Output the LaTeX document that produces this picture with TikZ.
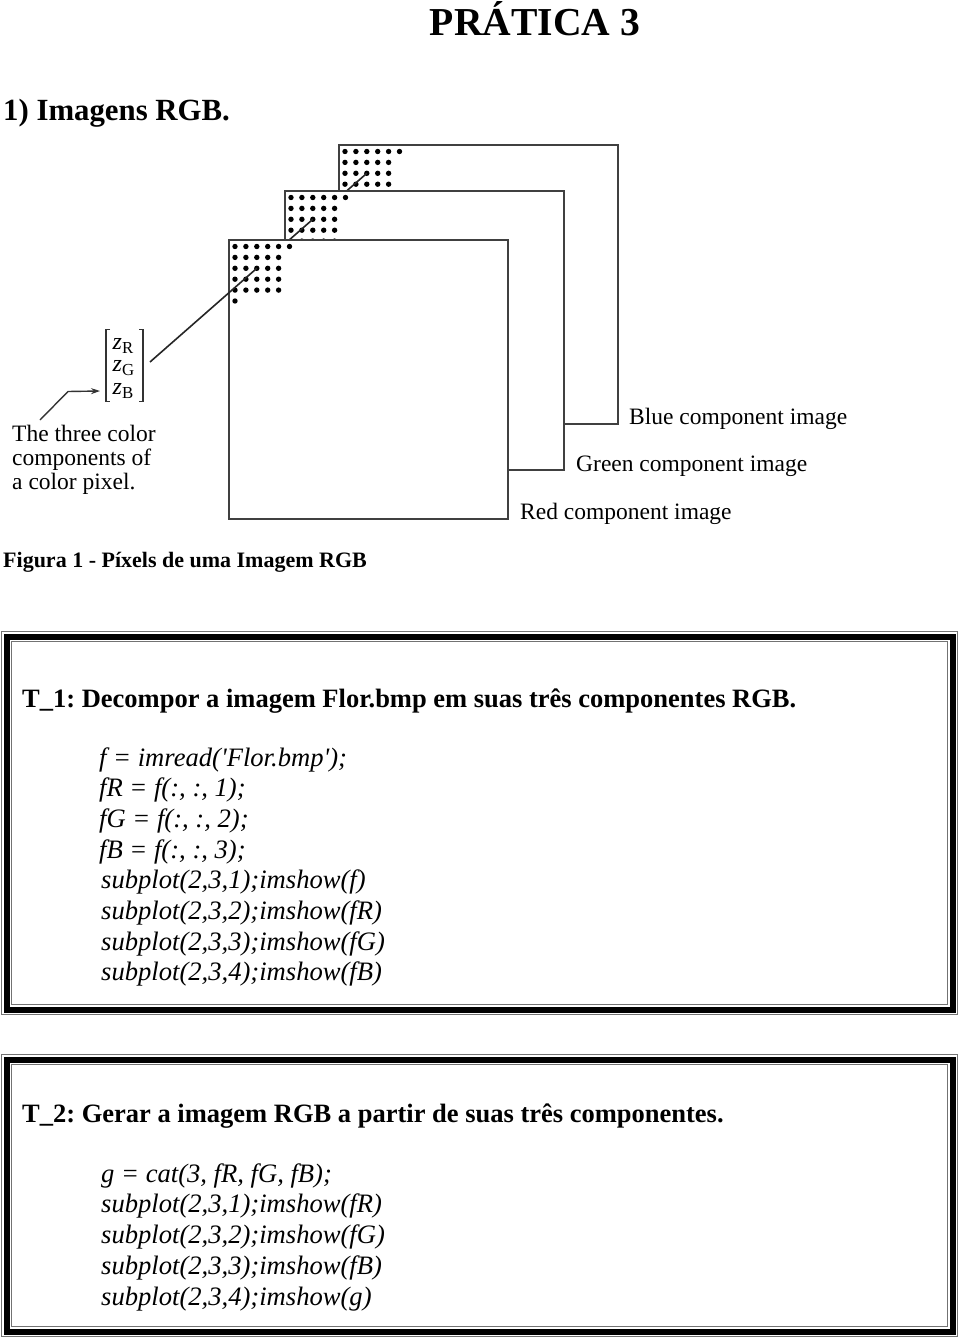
\documentclass[tikz,border=0pt]{standalone}
\usepackage{fontspec}
\setmainfont{Liberation Serif}
\usetikzlibrary{arrows.meta}
\tikzset{
  txt/.style={inner sep=0pt, anchor=base west},
  lbl/.style={txt, font=\fontsize{23.5}{24}\selectfont},
  zlab/.style={txt, font=\fontsize{24}{24}\selectfont},
  code/.style={txt, font=\fontsize{26.6}{30}\selectfont\itshape\frenchspacing},
  head/.style={txt, font=\fontsize{26.5}{30}\selectfont\bfseries\frenchspacing},
  layer/.style={draw=black!75, line width=2pt, fill=white, inner sep=0pt, minimum size=279pt, anchor=north west},
  pixdot/.style={fill=black},
  ray/.style={draw=black!85, line width=1.6pt},
  brk/.style={draw=black!80, line width=1.3pt},
  frameout/.style={draw=black!55, line width=1pt},
  framemid/.style={draw=black, line width=6pt},
  framein/.style={draw=black!55, line width=1pt},
}
\newcommand\mypixgrid{%
  \foreach \c in {0,...,5} \path[pixdot] (7+\c*10.9, 7.5) circle[radius=2.7pt];
  \foreach \r in {1,...,4} {\foreach \c in {0,...,4} \path[pixdot] (7+\c*10.9, 7.5+\r*10.9) circle[radius=2.7pt];}
  \path[pixdot] (7, 7.5+5*10.9) circle[radius=2.7pt];
}
\begin{document}
\begin{tikzpicture}[x=1pt,y=-1pt]
\useasboundingbox[fill=white] (0,0) rectangle (960,1338);

% headings
\node[inner sep=0pt, anchor=base, font=\fontsize{39.6}{40}\selectfont\bfseries] (title) at (535,36) {PRÁTICA 3};
\node[txt, font=\fontsize{30.8}{32}\selectfont\bfseries] (sec) at (3,120) {1) Imagens RGB.};

% component images (back to front)
\node[layer] (blue) at (338,144) {};
\begin{scope}[shift={(338,144)}]\mypixgrid\end{scope}
\coordinate (bdot) at (366.8,173.3);
\coordinate (bend) at (326.8,208.3);
\draw[ray] (bdot) -- (bend);

\node[layer] (green) at (284,190) {};
\begin{scope}[shift={(284,190)}]\mypixgrid\end{scope}
\coordinate (gdot) at (312.8,219.3);
\coordinate (gend) at (272.8,254.3);
\draw[ray] (gdot) -- (gend);

\node[layer] (red) at (228,239) {};
\begin{scope}[shift={(228,239)}]\mypixgrid\end{scope}
\coordinate (rdot) at (256.8,268.3);
\coordinate (zvecR) at (150,362);
\draw[ray] (rdot) -- (zvecR);

% labels
\node[lbl] (lblue) at (629,424) {Blue component image};
\node[lbl] (lgreen) at (576,471) {Green component image};
\node[lbl] (lred) at (520,519) {Red component image};

% pixel vector
\node[zlab] (zR) at (112.5,349.3) {\textit{z}\textsubscript{R}};
\node[zlab] (zG) at (112.5,371.8) {\textit{z}\textsubscript{G}};
\node[zlab] (zB) at (112.5,394.3) {\textit{z}\textsubscript{B}};
\draw[brk] (110,329.5) -- (106,329.5) -- (106,401.5) -- (110,401.5);
\draw[brk] (139,329.5) -- (143,329.5) -- (143,401.5) -- (139,401.5);

\node[lbl] (cap1) at (12,441) {The three color};
\node[lbl] (cap2) at (12,465) {components of};
\node[lbl] (cap3) at (12,489) {a color pixel.};
\coordinate (capTop) at (40,420);
\coordinate (zBin) at (100,391);
\draw[brk, line width=1.4pt, -{Stealth[length=9pt,width=6pt]}] (capTop) -- (68,391.5) -- (zBin);

\node[txt, font=\fontsize{22}{24}\selectfont\bfseries] (fig) at (3,567) {Figura 1 - Píxels de uma Imagem RGB};

% box 1
\draw[frameout] (1.5,631.5) rectangle (957.5,1014.5);
\draw[framemid] (6.5,636.5) rectangle (952.5,1009.5);
\draw[framein] (11.5,641.5) rectangle (947.5,1004.5);
\node[head] (t1) at (22,707) {T\_1: Decompor a imagem Flor.bmp em suas três componentes RGB.};
\node[code] (c1) at (99,766) {f = imread(\textquotesingle Flor.bmp\textquotesingle);};
\node[code] (c2) at (99,796.7) {fR = f(:, :, 1);};
\node[code] (c3) at (99,827.4) {fG = f(:, :, 2);};
\node[code] (c4) at (99,858.1) {fB = f(:, :, 3);};
\node[code] (c5) at (101,888.8) {subplot(2,3,1);imshow(f)};
\node[code] (c6) at (101,919.5) {subplot(2,3,2);imshow(fR)};
\node[code] (c7) at (101,950.2) {subplot(2,3,3);imshow(fG)};
\node[code] (c8) at (101,980.9) {subplot(2,3,4);imshow(fB)};

% box 2
\draw[frameout] (1.5,1054.5) rectangle (957.5,1336.5);
\draw[framemid] (6.5,1059.5) rectangle (952.5,1331.5);
\draw[framein] (11.5,1064.5) rectangle (947.5,1326.5);
\node[head] (t2) at (22,1122) {T\_2: Gerar a imagem RGB a partir de suas três componentes.};
\node[code] (d1) at (101,1182.2) {g = cat(3, fR, fG, fB);};
\node[code] (d2) at (101,1212.9) {subplot(2,3,1);imshow(fR)};
\node[code] (d3) at (101,1243.6) {subplot(2,3,2);imshow(fG)};
\node[code] (d4) at (101,1274.3) {subplot(2,3,3);imshow(fB)};
\node[code] (d5) at (101,1305) {subplot(2,3,4);imshow(g)};
\end{tikzpicture}
\end{document}
